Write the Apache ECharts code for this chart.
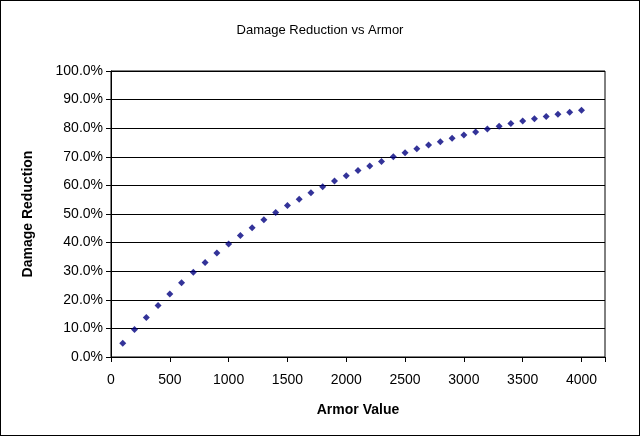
<!DOCTYPE html>
<html><head><meta charset="utf-8">
<script src="https://cdn.jsdelivr.net/npm/echarts@6/dist/echarts.min.js"></script>
<style>html,body{margin:0;padding:0;background:#fff}#c{width:640px;height:436px;box-sizing:border-box;border:1px solid #000}</style>
</head><body><div id="c"></div>
<script>
const armor = [100,200,300,400,500,600,700,800,900,1000,1100,1200,1300,1400,1500,1600,1700,1800,1900,2000,2100,2200,2300,2400,2500,2600,2700,2800,2900,3000,3100,3200,3300,3400,3500,3600,3700,3800,3900,4000];
const reduction = [4.8,9.6,13.8,18,22,26,29.6,33,36.4,39.5,42.5,45.2,48,50.5,53,55.2,57.4,59.5,61.5,63.4,65.2,66.8,68.4,70,71.4,72.8,74.1,75.3,76.5,77.6,78.7,79.7,80.7,81.6,82.5,83.3,84.1,84.9,85.6,86.3];
const chart = echarts.init(document.getElementById('c'));
const F = 'Arial, "Liberation Sans", sans-serif';
chart.setOption({
  animation:false,
  title:{text:'Damage Reduction vs Armor',left:'center',top:18,textStyle:{fontFamily:F,fontSize:13,fontWeight:'normal',color:'#000'}},
  grid:{left:110,right:34,top:70,bottom:78,show:true,borderColor:'#000',borderWidth:1},
  xAxis:{type:'value',min:0,max:4200,interval:500,name:'Armor Value',nameLocation:'middle',nameGap:46,
    nameTextStyle:{fontFamily:F,fontSize:14,fontWeight:'bold',color:'#000'},
    axisLine:{lineStyle:{color:'#000'}},axisTick:{show:true,lineStyle:{color:'#000'}},splitLine:{show:false},
    axisLabel:{fontFamily:F,fontSize:14,color:'#000',margin:16,formatter:v=>v>4000?'':v}},
  yAxis:{type:'value',min:0,max:100,interval:10,name:'Damage Reduction',nameLocation:'middle',nameGap:76,
    nameTextStyle:{fontFamily:F,fontSize:14,fontWeight:'bold',color:'#000'},
    axisLine:{show:true,lineStyle:{color:'#000'}},axisTick:{show:true,lineStyle:{color:'#000'}},
    splitLine:{lineStyle:{color:'#000'}},
    axisLabel:{fontFamily:F,fontSize:14,color:'#000',formatter:v=>v.toFixed(1)+'%'}},
  series:[{type:'scatter',symbol:'diamond',symbolSize:7,itemStyle:{color:'#000080'},
    data:armor.map((a,i)=>[a,reduction[i]])}]
});
</script></body></html>
